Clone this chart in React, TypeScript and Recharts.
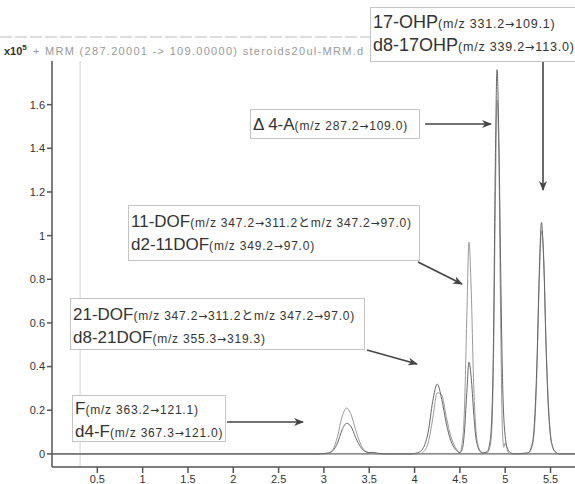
import React from "react";
import { LineChart, Line, XAxis, YAxis, ReferenceLine } from "recharts";

// retention time (min) vs. abundance (x10^5)
const xTicks = [0.5, 1, 1.5, 2, 2.5, 3, 3.5, 4, 4.5, 5, 5.5];
const yTicks = [0, 0.2, 0.4, 0.6, 0.8, 1, 1.2, 1.4, 1.6];

// analyte transitions
const analyteTrace: [number, number][] = [
  [0, 0], [2.9, 0], [3.0, 0.002], [3.05, 0.005], [3.1, 0.015], [3.15, 0.05], [3.2, 0.11],
  [3.25, 0.14], [3.3, 0.125], [3.35, 0.075], [3.4, 0.035], [3.45, 0.012], [3.5, 0.006],
  [3.55, 0.007], [3.6, 0.002], [3.7, 0], [3.95, 0], [4.0, 0.002], [4.05, 0.008], [4.1, 0.03],
  [4.15, 0.1], [4.2, 0.24], [4.25, 0.32], [4.3, 0.25], [4.35, 0.14], [4.4, 0.06], [4.45, 0.022],
  [4.5, 0.006], [4.525, 0.02], [4.55, 0.1], [4.575, 0.27], [4.6, 0.42], [4.625, 0.35],
  [4.65, 0.2], [4.675, 0.08], [4.7, 0.03], [4.725, 0.01], [4.75, 0.004], [4.8, 0.01],
  [4.83, 0.05], [4.85, 0.15], [4.87, 0.5], [4.89, 1.3], [4.91, 1.76], [4.93, 1.45],
  [4.95, 0.85], [4.97, 0.35], [5.0, 0.08], [5.03, 0.02], [5.06, 0.005], [5.1, 0],
  [5.25, 0.005], [5.3, 0.05], [5.325, 0.16], [5.35, 0.42], [5.375, 0.82], [5.4, 1.06],
  [5.425, 0.88], [5.45, 0.5], [5.475, 0.22], [5.5, 0.08], [5.525, 0.03], [5.55, 0.01],
  [5.6, 0], [5.77, 0],
];

// deuterated internal standards
const standardTrace: [number, number][] = [
  [0, 0], [3.0, 0], [3.05, 0.003], [3.1, 0.02], [3.15, 0.08], [3.2, 0.17], [3.25, 0.21],
  [3.3, 0.18], [3.35, 0.11], [3.4, 0.05], [3.45, 0.015], [3.5, 0.005], [3.6, 0], [4.05, 0],
  [4.1, 0.01], [4.15, 0.05], [4.2, 0.16], [4.25, 0.28], [4.3, 0.27], [4.35, 0.17], [4.4, 0.08],
  [4.45, 0.03], [4.5, 0.005], [4.525, 0.05], [4.55, 0.2], [4.575, 0.6], [4.6, 0.97],
  [4.625, 0.75], [4.65, 0.35], [4.675, 0.12], [4.7, 0.04], [4.725, 0.015], [4.75, 0.005],
  [4.8, 0.005], [4.83, 0.03], [4.85, 0.1], [4.87, 0.4], [4.89, 1.1], [4.91, 1.62],
  [4.93, 1.35], [4.95, 0.6], [4.97, 0.1], [4.985, 0.03], [5.0, 0.05], [5.03, 0.01],
  [5.06, 0], [5.25, 0], [5.3, 0.04], [5.325, 0.13], [5.35, 0.38], [5.375, 0.78], [5.4, 1.02],
  [5.425, 0.9], [5.45, 0.52], [5.475, 0.24], [5.5, 0.09], [5.525, 0.03], [5.55, 0.01],
  [5.6, 0], [5.77, 0],
];

const toPoints = (pairs: [number, number][]) => pairs.map(([t, v]) => ({ t, v }));

const FONT = "'Liberation Sans', Arial, 'Noto Sans CJK JP', sans-serif";

type Label = { name: string; mz: string };
type Box = { left: number; top: number; width: number; height: number; padTop: number; big: number; small: number; lines: Label[] };

const boxes: Box[] = [
  { left: 370, top: 7, width: 215, height: 55, padTop: 3, big: 18, small: 12.5, lines: [
    { name: "17-OHP", mz: "(m/z 331.2→109.1)" },
    { name: "d8-17OHP", mz: "(m/z 339.2→113.0)" },
  ] },
  { left: 250, top: 109, width: 170, height: 30, padTop: 3, big: 17, small: 12, lines: [
    { name: "Δ 4-A", mz: "(m/z 287.2→109.0)" },
  ] },
  { left: 128, top: 205, width: 292, height: 56, padTop: 4, big: 17, small: 12, lines: [
    { name: "11-DOF", mz: "(m/z 347.2→311.2とm/z 347.2→97.0)" },
    { name: "d2-11DOF", mz: "(m/z 349.2→97.0)" },
  ] },
  { left: 70, top: 298, width: 295, height: 52, padTop: 4, big: 17, small: 12, lines: [
    { name: "21-DOF", mz: "(m/z 347.2→311.2とm/z 347.2→97.0)" },
    { name: "d8-21DOF", mz: "(m/z 355.3→319.3)" },
  ] },
  { left: 72, top: 395, width: 154, height: 47, padTop: 1, big: 17, small: 12, lines: [
    { name: "F", mz: "(m/z 363.2→121.1)" },
    { name: "d4-F", mz: "(m/z 367.3→121.0)" },
  ] },
];

const arrows = [
  [543, 62, 543, 190],
  [425, 124, 491, 124],
  [418, 262, 462, 284],
  [367, 350, 417, 364],
  [227, 422, 303, 422],
];

const MzText = ({ text, size }: { text: string; size: number }) => {
  const parts = text.split("→");
  return (
    <span style={{ fontSize: size, letterSpacing: 0.8 }}>
      {parts.map((p, i) => (
        <React.Fragment key={i}>
          {i > 0 && <span style={{ fontFamily: "'DejaVu Sans'", fontSize: size * 0.9 }}>→</span>}
          {p}
        </React.Fragment>
      ))}
    </span>
  );
};

export default function App() {
  return (
    <div style={{ position: "absolute", left: 0, top: 0, width: 575, height: 484, background: "#fff", overflow: "hidden", fontFamily: FONT }}>
      <LineChart width={575} height={484} margin={{ top: 61, right: 0, bottom: 0, left: 0 }}>
        <XAxis
          type="number"
          dataKey="t"
          domain={[0, 5.77]}
          ticks={xTicks}
          interval={0}
          height={17}
          tickSize={6}
          stroke="#555"
          strokeWidth={1.5}
          tick={{ fontSize: 11, fill: "#333", fontFamily: FONT }}
        />
        <YAxis
          type="number"
          domain={[-0.06, 1.8]}
          ticks={yTicks}
          interval={0}
          width={52}
          tickSize={5}
          stroke="#555"
          strokeWidth={1.5}
          tick={{ fontSize: 11, fill: "#333", fontFamily: FONT }}
        />
        <ReferenceLine x={0.31} stroke="#d4d4d4" />
        <ReferenceLine y={0} stroke="#666" strokeWidth={1.2} />
        <Line data={toPoints(standardTrace)} dataKey="v" type="monotone" stroke="#9a9a9a" strokeWidth={1} dot={false} isAnimationActive={false} />
        <Line data={toPoints(analyteTrace)} dataKey="v" type="monotone" stroke="#666" strokeWidth={1} dot={false} isAnimationActive={false} />
      </LineChart>

      <svg width={575} height={484} style={{ position: "absolute", left: 0, top: 0, pointerEvents: "none" }}>
        <defs>
          <marker id="head" markerWidth="10" markerHeight="8" refX="9" refY="4" orient="auto" markerUnits="userSpaceOnUse">
            <path d="M0,0 L10,4 L0,8 L3,4 Z" fill="#444" />
          </marker>
        </defs>
        <line x1={0} y1={37} x2={370} y2={37} stroke="#bbb" strokeDasharray="12 3" />
        {arrows.map(([x1, y1, x2, y2], i) => (
          <line key={i} x1={x1} y1={y1} x2={x2} y2={y2} stroke="#444" strokeWidth={1.6} markerEnd="url(#head)" />
        ))}
      </svg>

      <div style={{ position: "absolute", left: 4, top: 43, fontSize: 11, fontWeight: "bold", color: "#333" }}>
        x10<sup style={{ fontSize: 8 }}>5</sup>
      </div>
      <div style={{ position: "absolute", left: 33, top: 45, width: 337, overflow: "hidden", whiteSpace: "nowrap", fontSize: 11, letterSpacing: 1.3, color: "#999" }}>
        + MRM (287.20001 -&gt; 109.00000) steroids20ul-MRM.d
      </div>

      {boxes.map((b, i) => (
        <div key={i} style={{ position: "absolute", left: b.left, top: b.top, width: b.width, height: b.height, boxSizing: "border-box", border: "1px solid #c4c4c4", background: "#fff", paddingTop: b.padTop, paddingLeft: 2, whiteSpace: "nowrap", color: "#333" }}>
          {b.lines.map((l, j) => (
            <div key={j} style={{ height: 23, lineHeight: "23px" }}>
              <span style={{ fontSize: b.big }}>{l.name}</span>
              <MzText text={l.mz} size={b.small} />
            </div>
          ))}
        </div>
      ))}
    </div>
  );
}
